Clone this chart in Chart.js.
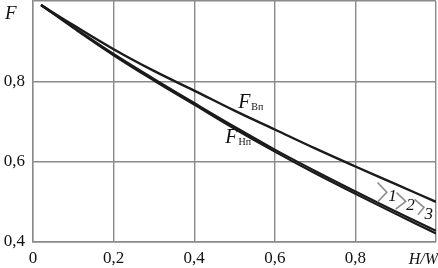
<!DOCTYPE html>
<html>
<head>
<meta charset="utf-8">
<script src="https://cdn.jsdelivr.net/npm/chart.js@4"></script>
<style>
  html, body { margin: 0; padding: 0; background: #fff; }
  #wrap { width: 438px; height: 268px; }
</style>
</head>
<body>
<div id="wrap"><canvas id="chart"></canvas></div>
<script>
const ratio = [0.02, 0.1, 0.2, 0.3, 0.4, 0.5, 0.6, 0.7, 0.8, 0.9, 1.0];
const fUpper = [0.99, 0.94, 0.88, 0.826, 0.777, 0.727, 0.68, 0.633, 0.588, 0.544, 0.50];
const fLower1 = [0.99, 0.935, 0.868, 0.806, 0.746, 0.687, 0.630, 0.577, 0.526, 0.476, 0.428];
const fLower2 = [0.99, 0.933, 0.865, 0.802, 0.742, 0.682, 0.625, 0.571, 0.520, 0.470, 0.421];
const xTicks = [0, 0.2, 0.4, 0.6, 0.8, 1.0];
const yTicks = [0.4, 0.6, 0.8, 1.0];

// curve labels and callouts, in data units
const curveLabels = [
  { x: 0.509, y: 0.733, main: "F", sub: "Вп" },
  { x: 0.477, y: 0.646, main: "F", sub: "Нп" }
];
const callouts = [
  { text: "1", pts: [[0.855, 0.548], [0.878, 0.524], [0.855, 0.500]], tx: 0.892, ty: 0.512 },
  { text: "2", pts: [[0.902, 0.523], [0.925, 0.501], [0.900, 0.482]], tx: 0.937, ty: 0.490 },
  { text: "3", pts: [[0.947, 0.506], [0.970, 0.486], [0.955, 0.468]], tx: 0.982, ty: 0.468 }
];

const serif = "Liberation Serif";
const toPts = ys => ratio.map((x, i) => ({ x, y: ys[i] }));

const overlay = {
  id: "overlay",
  afterDatasetsDraw(chart) {
    const { ctx, scales: { x, y }, chartArea } = chart;
    ctx.save();
    ctx.fillStyle = "#111";
    ctx.textBaseline = "alphabetic";
    // axis names
    ctx.font = "italic 19px " + serif;
    ctx.textAlign = "left";
    ctx.fillText("F", 5, 19);
    ctx.font = "italic 16px " + serif;
    ctx.textAlign = "right";
    ctx.fillText("H/W", chartArea.right + 2, 264);

    curveLabels.forEach(l => {
      const px = x.getPixelForValue(l.x), py = y.getPixelForValue(l.y);
      ctx.textAlign = "left";
      ctx.font = "italic 20px " + serif;
      ctx.fillText(l.main, px, py);
      const w = ctx.measureText(l.main).width;
      ctx.font = "10px " + serif;
      ctx.fillText(l.sub, px + w + 1, py + 2);
    });

    ctx.strokeStyle = "#8c8c8c";
    ctx.lineWidth = 1.6;
    callouts.forEach(c => {
      ctx.beginPath();
      c.pts.forEach((p, i) => {
        const px = x.getPixelForValue(p[0]), py = y.getPixelForValue(p[1]);
        i ? ctx.lineTo(px, py) : ctx.moveTo(px, py);
      });
      ctx.stroke();
      ctx.font = "italic 17px " + serif;
      ctx.textAlign = "center";
      ctx.textBaseline = "middle";
      ctx.fillText(c.text, x.getPixelForValue(c.tx), y.getPixelForValue(c.ty));
    });
    ctx.restore();
  }
};

const lineStyle = (data, w) => ({
  data: toPts(data),
  showLine: true,
  borderColor: "#1a1a1a",
  borderWidth: w,
  pointRadius: 0,
  tension: 0.4,
  fill: false
});

new Chart(document.getElementById("chart"), {
  type: "scatter",
  data: {
    datasets: [
      lineStyle(fUpper, 2.4),
      lineStyle(fLower1, 2.2),
      lineStyle(fLower2, 2.2)
    ]
  },
  options: {
    responsive: true,
    maintainAspectRatio: false,
    animation: false,
    layout: { padding: { top: 1, right: 2, left: 0, bottom: 0 } },
    plugins: { legend: { display: false }, tooltip: { enabled: false } },
    scales: {
      x: {
        type: "linear",
        min: 0,
        max: 1,
        afterBuildTicks: s => { s.ticks = xTicks.map(v => ({ value: v })); },
        afterFit: s => { s.height = 26; s.paddingLeft = 0; s.paddingRight = 0; },
        grid: { color: "#8a8a8a", lineWidth: 1.4, drawTicks: false },
        border: { color: "#8a8a8a", width: 1.4 },
        ticks: {
          color: "#111",
          padding: 6,
          font: { family: serif, size: 17 },
          callback: v => (v === 1 ? "" : v === 0 ? "0" : v.toFixed(1).replace(".", ","))
        }
      },
      y: {
        type: "linear",
        min: 0.4,
        max: 1,
        afterBuildTicks: s => { s.ticks = yTicks.map(v => ({ value: v })); },
        afterFit: s => { s.width = 33; s.paddingTop = 0; s.paddingBottom = 0; },
        grid: { color: "#8a8a8a", lineWidth: 1.4, drawTicks: false },
        border: { color: "#8a8a8a", width: 1.4 },
        ticks: {
          color: "#111",
          padding: 8,
          font: { family: serif, size: 17 },
          callback: v => (v === 1 ? "" : v.toFixed(1).replace(".", ","))
        }
      }
    }
  },
  plugins: [overlay]
});
</script>
</body>
</html>
